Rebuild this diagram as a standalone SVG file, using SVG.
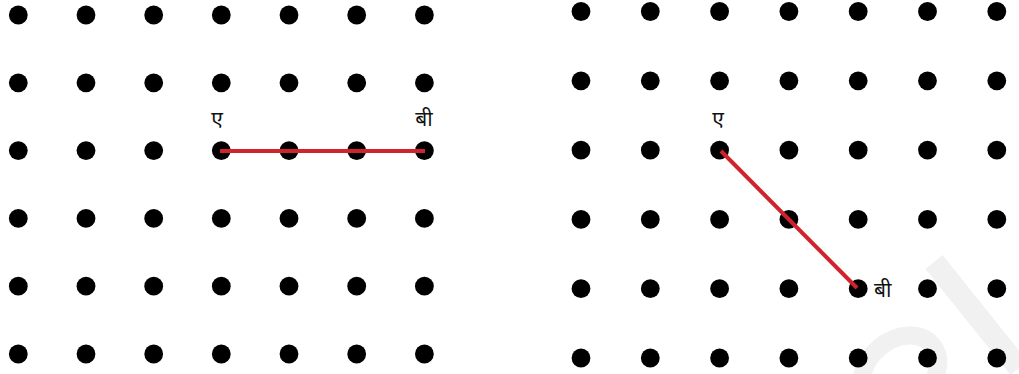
<svg xmlns="http://www.w3.org/2000/svg" width="1019" height="374" viewBox="0 0 1019 374">
<style>
.dot{fill:#000}
.seg{stroke:#d0232b;stroke-width:4;stroke-linecap:butt;fill:none}
.lbl{font-family:"Noto Sans","Noto Sans Devanagari","Lohit Devanagari",sans-serif;font-size:21px;fill:#111}
.wm{fill:none;stroke:#f1f1f1}
</style>
<defs>
<circle id="d" r="9.4" class="dot"/>
</defs>
<g id="watermark">
<line class="wm" x1="934" y1="262" x2="1019" y2="368" stroke-width="22"/>
<ellipse class="wm" cx="900" cy="372" rx="42" ry="32" transform="rotate(-40 900 372)" stroke-width="18"/>
</g>
<g id="grid-left">
<use href="#d" x="18.3" y="15"/><use href="#d" x="86" y="15"/><use href="#d" x="153.7" y="15"/><use href="#d" x="221.3" y="15"/><use href="#d" x="289" y="15"/><use href="#d" x="356.7" y="15"/><use href="#d" x="424.4" y="15"/>
<use href="#d" x="18.3" y="82.8"/><use href="#d" x="86" y="82.8"/><use href="#d" x="153.7" y="82.8"/><use href="#d" x="221.3" y="82.8"/><use href="#d" x="289" y="82.8"/><use href="#d" x="356.7" y="82.8"/><use href="#d" x="424.4" y="82.8"/>
<use href="#d" x="18.3" y="150.6"/><use href="#d" x="86" y="150.6"/><use href="#d" x="153.7" y="150.6"/><use href="#d" x="221.3" y="150.6"/><use href="#d" x="289" y="150.6"/><use href="#d" x="356.7" y="150.6"/><use href="#d" x="424.4" y="150.6"/>
<use href="#d" x="18.3" y="218.4"/><use href="#d" x="86" y="218.4"/><use href="#d" x="153.7" y="218.4"/><use href="#d" x="221.3" y="218.4"/><use href="#d" x="289" y="218.4"/><use href="#d" x="356.7" y="218.4"/><use href="#d" x="424.4" y="218.4"/>
<use href="#d" x="18.3" y="286.2"/><use href="#d" x="86" y="286.2"/><use href="#d" x="153.7" y="286.2"/><use href="#d" x="221.3" y="286.2"/><use href="#d" x="289" y="286.2"/><use href="#d" x="356.7" y="286.2"/><use href="#d" x="424.4" y="286.2"/>
<use href="#d" x="18.3" y="354"/><use href="#d" x="86" y="354"/><use href="#d" x="153.7" y="354"/><use href="#d" x="221.3" y="354"/><use href="#d" x="289" y="354"/><use href="#d" x="356.7" y="354"/><use href="#d" x="424.4" y="354"/>
</g>
<g id="grid-right">
<use href="#d" x="581" y="11.5"/><use href="#d" x="650.3" y="11.5"/><use href="#d" x="719.6" y="11.5"/><use href="#d" x="788.9" y="11.5"/><use href="#d" x="858.2" y="11.5"/><use href="#d" x="927.5" y="11.5"/><use href="#d" x="996.8" y="11.5"/>
<use href="#d" x="581" y="80.8"/><use href="#d" x="650.3" y="80.8"/><use href="#d" x="719.6" y="80.8"/><use href="#d" x="788.9" y="80.8"/><use href="#d" x="858.2" y="80.8"/><use href="#d" x="927.5" y="80.8"/><use href="#d" x="996.8" y="80.8"/>
<use href="#d" x="581" y="150.1"/><use href="#d" x="650.3" y="150.1"/><use href="#d" x="719.6" y="150.1"/><use href="#d" x="788.9" y="150.1"/><use href="#d" x="858.2" y="150.1"/><use href="#d" x="927.5" y="150.1"/><use href="#d" x="996.8" y="150.1"/>
<use href="#d" x="581" y="219.4"/><use href="#d" x="650.3" y="219.4"/><use href="#d" x="719.6" y="219.4"/><use href="#d" x="788.9" y="219.4"/><use href="#d" x="858.2" y="219.4"/><use href="#d" x="927.5" y="219.4"/><use href="#d" x="996.8" y="219.4"/>
<use href="#d" x="581" y="288.7"/><use href="#d" x="650.3" y="288.7"/><use href="#d" x="719.6" y="288.7"/><use href="#d" x="788.9" y="288.7"/><use href="#d" x="858.2" y="288.7"/><use href="#d" x="927.5" y="288.7"/><use href="#d" x="996.8" y="288.7"/>
<use href="#d" x="581" y="358"/><use href="#d" x="650.3" y="358"/><use href="#d" x="719.6" y="358"/><use href="#d" x="788.9" y="358"/><use href="#d" x="858.2" y="358"/><use href="#d" x="927.5" y="358"/><use href="#d" x="996.8" y="358"/>
</g>
<g id="connectors">
<line class="seg" x1="220" y1="151" x2="425" y2="151"/>
<line class="seg" x1="721" y1="151" x2="857" y2="288"/>
</g>
<g id="labels">
<text class="lbl" x="217" y="126" text-anchor="middle">ए</text>
<text class="lbl" x="424" y="126" text-anchor="middle">बी</text>
<text class="lbl" x="718" y="126" text-anchor="middle">ए</text>
<text class="lbl" x="874" y="297">बी</text>
</g>
</svg>
